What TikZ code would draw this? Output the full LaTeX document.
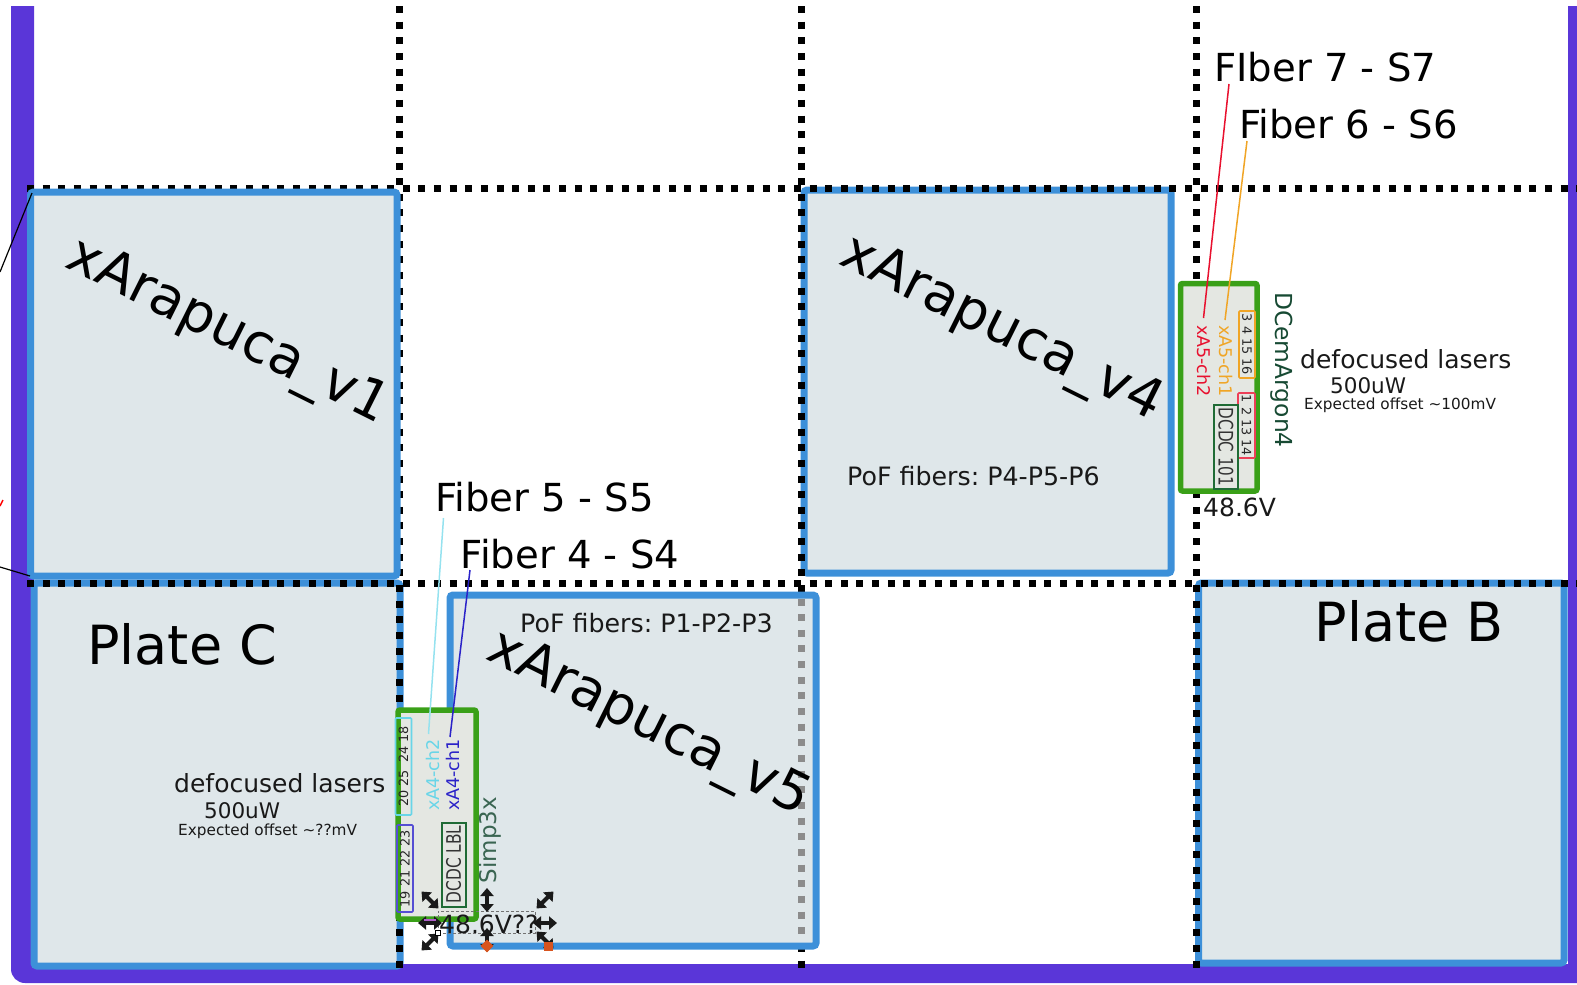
\documentclass[tikz,border=0pt]{standalone}
\usepackage{fontspec}
\setmainfont{DejaVu Sans}
\usetikzlibrary{arrows.meta}

\begin{document}
\frenchspacing
\begin{tikzpicture}[
    x=1pt, y=-1pt,
    every node/.style={align=center, inner sep=0pt},
    plate/.style={draw=platecolor, fill=platefill, line width=7pt, rounded corners=3pt},
    board/.style={draw=boardcolor, fill=boardfill, line width=5.5pt, rounded corners=2pt},
    chanbox/.style={draw, line width=1.6pt, rounded corners=1pt, font=\fontsize{12.8}{14}\selectfont, text=black!85},
    dcdcbox/.style={draw=labelcolor, line width=2pt, font=\fontsize{20}{22}\selectfont, text=black!80},
    chantext/.style={font=\fontsize{17.5}{19}\selectfont},
    xatext/.style={font=\fontsize{54.5}{60}\selectfont, rotate=-26.5},
    platetext/.style={anchor=base west, font=\fontsize{54}{60}\selectfont},
    fibertext/.style={anchor=base west, font=\fontsize{38.6}{44}\selectfont},
    poftext/.style={anchor=base west, font=\fontsize{25.3}{28}\selectfont, text=black!90},
    lasertext/.style={anchor=base west, font=\fontsize{25}{28}\selectfont, text=black!90},
    powertext/.style={anchor=base west, font=\fontsize{21.5}{24}\selectfont, text=black!90},
    offsettext/.style={anchor=base west, font=\fontsize{15.3}{17}\selectfont, text=black!90},
    volttext/.style={anchor=base west, font=\fontsize{25}{28}\selectfont, text=black!90},
    dots/.style={line width=7pt, dash pattern=on 7pt off 8.65pt},
    fiberline/.style={line width=1.5pt},
    handle/.style={{Triangle[length=8pt,width=13pt]}-{Triangle[length=8pt,width=13pt]}, line width=4pt, black!90},
]

% Colors
\definecolor{framecolor}{HTML}{5A36D8}
\definecolor{platecolor}{HTML}{3D90D9}
\definecolor{platefill}{HTML}{DFE7EA}
\definecolor{boardcolor}{HTML}{3AA018}
\definecolor{boardfill}{HTML}{E4E7E2}
\definecolor{labelcolor}{HTML}{1F6B35}
\definecolor{namecolor}{HTML}{174A33}
\definecolor{cyancolor}{HTML}{68D5E8}
\definecolor{bluecolor}{HTML}{2A22C8}
\definecolor{redcolor}{HTML}{E8102E}
\definecolor{orangecolor}{HTML}{F0A526}
\definecolor{markcolor}{HTML}{D8541E}
\definecolor{pinkcolor}{HTML}{B060C8}

% Dotted grid positions
\def\xa{399}
\def\xb{801}
\def\xc{1196}
\def\ya{188.5}
\def\yb{583}

\useasboundingbox (0,0) rectangle (1577,985);

% Outer frame
\fill[framecolor] (11,6) [rounded corners=14pt] -- (11,983) [sharp corners] -- (1577,983) -- (1577,6)
    -- (1568,6) -- (1568,964) -- (34,964) -- (34,6) -- cycle;

% Plates below the dotted grid
\node[plate, minimum width=367pt, minimum height=383pt] (platevfour) at (987.5, 381.5) {};
\node[plate, minimum width=366pt, minimum height=383pt] (platec) at (217, 774.5) {};
\node[plate, minimum width=365.5pt, minimum height=380pt] (plateb) at (1381.25, 773) {};

% Dotted grid
\foreach \gx in {\xa, \xb, \xc} {
    \draw[dots] (\gx, 6) -- (\gx, 970);
}
\foreach \gy in {\ya, \yb} {
    \draw[dots] (27, \gy) -- (1577, \gy);
}

% Plates above the dotted grid
\node[plate, minimum width=366.5pt, minimum height=384pt] (platevone) at (213.75, 384) {};
\node[plate, minimum width=366pt, minimum height=351pt] (platevfive) at (633, 770.5) {};
\draw[dots, black!45] (\xb, 598.5) -- (\xb, 942);

% Plate names
\node[xatext] (namevone) at (227, 333) {xArapuca\_v1};
\node[xatext] (namevfour) at (1001, 330) {xArapuca\_v4};
\node[xatext] (namevfive) at (648, 725) {xArapuca\_v5};
\node[platetext] (namec) at (87, 664) {Plate C};
\node[platetext] (nameb) at (1314.5, 641) {Plate B};

% PoF labels
\node[poftext] (pofa) at (520, 632) {PoF fibers: P1-P2-P3};
\node[poftext] (pofb) at (847, 485) {PoF fibers: P4-P5-P6};

% Board Simp3x
\node[board, minimum width=78pt, minimum height=209pt] (boardsimp) at (437, 814.5) {};
\node[chanbox, draw=cyancolor, rotate=90, minimum width=97pt, minimum height=16pt] (chancyan) at (403.5, 766.5) {20 25\; 24 18};
\node[chanbox, draw=bluecolor!80, rotate=90, minimum width=87pt, minimum height=16pt] (chanblue) at (405, 868.5) {19 21 22 23};
\node[dcdcbox, rotate=90, minimum width=84pt, minimum height=24pt] (dcdclbl) at (453.5, 864.5) {\scalebox{.77}[1]{DCDC LBL}};
\node[chantext, rotate=90, text=cyancolor] (chtwoa) at (432.5, 775) {xA4-ch2};
\node[chantext, rotate=90, text=bluecolor] (chonea) at (453, 775) {xA4-ch1};
\node[rotate=90, font=\fontsize{23}{26}\selectfont, text=namecolor!85] (simp) at (490, 840) {Simp3x};

% Board DCemArgon4
\node[board, minimum width=76.5pt, minimum height=207.5pt] (boardargon) at (1218.75, 387.25) {};
\node[chanbox, draw=orangecolor, rotate=-90, minimum width=67pt, minimum height=16pt] (chanorange) at (1247, 344.5) {3 4 15 16};
\node[chanbox, draw=redcolor!80, rotate=-90, minimum width=65pt, minimum height=17pt] (chanred) at (1246.5, 425.5) {1 2 13 14};
\node[dcdcbox, rotate=-90, minimum width=84pt, minimum height=24pt] (dcdcten) at (1226, 447) {\scalebox{.76}[1]{DCDC 101}};
\node[chantext, rotate=-90, text=redcolor] (chtwob) at (1204.5, 361) {xA5-ch2};
\node[chantext, rotate=-90, text=orangecolor] (choneb) at (1226.5, 361) {xA5-ch1};
\node[rotate=-90, font=\fontsize{23.4}{26}\selectfont, text=namecolor] (argon) at (1282, 370) {DCemArgon4};

% Fiber labels
\node[fibertext] (fiberseven) at (1214, 81) {FIber 7 - S7};
\node[fibertext] (fibersix) at (1239, 138) {Fiber 6 - S6};
\node[fibertext] (fiberfive) at (435, 511) {Fiber 5 - S5};
\node[fibertext] (fiberfour) at (460.5, 568) {Fiber 4 - S4};

% Fiber lines
\coordinate (sevenend) at (1229, 84);
\coordinate (sixend) at (1247, 141);
\coordinate (fiveend) at (443.5, 518);
\coordinate (fourend) at (470, 570);
\coordinate (sevenfoot) at (1203.5, 318);
\coordinate (sixfoot) at (1225, 320);
\coordinate (fivefoot) at (428.5, 734);
\coordinate (fourfoot) at (450, 737);
\draw[fiberline, redcolor] (sevenend) -- (sevenfoot);
\draw[fiberline, orangecolor] (sixend) -- (sixfoot);
\draw[fiberline, cyancolor!70] (fiveend) -- (fivefoot);
\draw[fiberline, bluecolor] (fourend) -- (fourfoot);

% Laser labels
\node[lasertext] (lasera) at (174, 792) {defocused lasers};
\node[powertext] (powera) at (204, 818) {500uW};
\node[offsettext] (offseta) at (178, 835) {Expected offset \textasciitilde??mV};
\node[lasertext] (laserb) at (1300, 368) {defocused lasers};
\node[powertext] (powerb) at (1330, 393) {500uW};
\node[offsettext] (offsetb) at (1304, 409) {Expected offset \textasciitilde100mV};

% Voltage labels
\node[volttext] (voltb) at (1203, 516) {48.6V};
\node[draw=black!55, densely dashed, line width=.7pt, minimum width=97pt, minimum height=22pt] (selbox) at (486.5, 922) {};
\node[volttext] (volta) at (439, 933) {48.6V??};

% Selection handles
\foreach \hx/\hy/\ha in {430/900/45, 545/900/135, 430/942/135, 545/940/45, 487/900/90, 487/940/90, 430/923/0, 545/923/0} {
    \draw[handle] ([shift={(\ha:12)}]\hx,\hy) -- ([shift={(\ha:-12)}]\hx,\hy);
}
\fill[pinkcolor] (424,919) rectangle (436,921);
\node[fill=markcolor, minimum size=9pt, rotate=45] (markb) at (487, 946) {};
\node[fill=markcolor, minimum size=9pt] (markc) at (548, 946) {};
\node[draw=black, fill=white, line width=.8pt, minimum size=5pt] (rotmark) at (438, 933) {};

% Leader lines at the left edge
\coordinate (lineatop) at (0, 272);
\coordinate (lineafoot) at (32, 193);
\coordinate (linebtop) at (0, 567);
\coordinate (linebfoot) at (30, 576);
\coordinate (redtop) at (3, 500);
\coordinate (redfoot) at (0, 506);
\draw[line width=1.2pt] (lineatop) -- (lineafoot);
\draw[line width=1.2pt] (linebtop) -- (linebfoot);
\draw[line width=1.5pt, red] (redtop) -- (redfoot);

\end{tikzpicture}
\end{document}
